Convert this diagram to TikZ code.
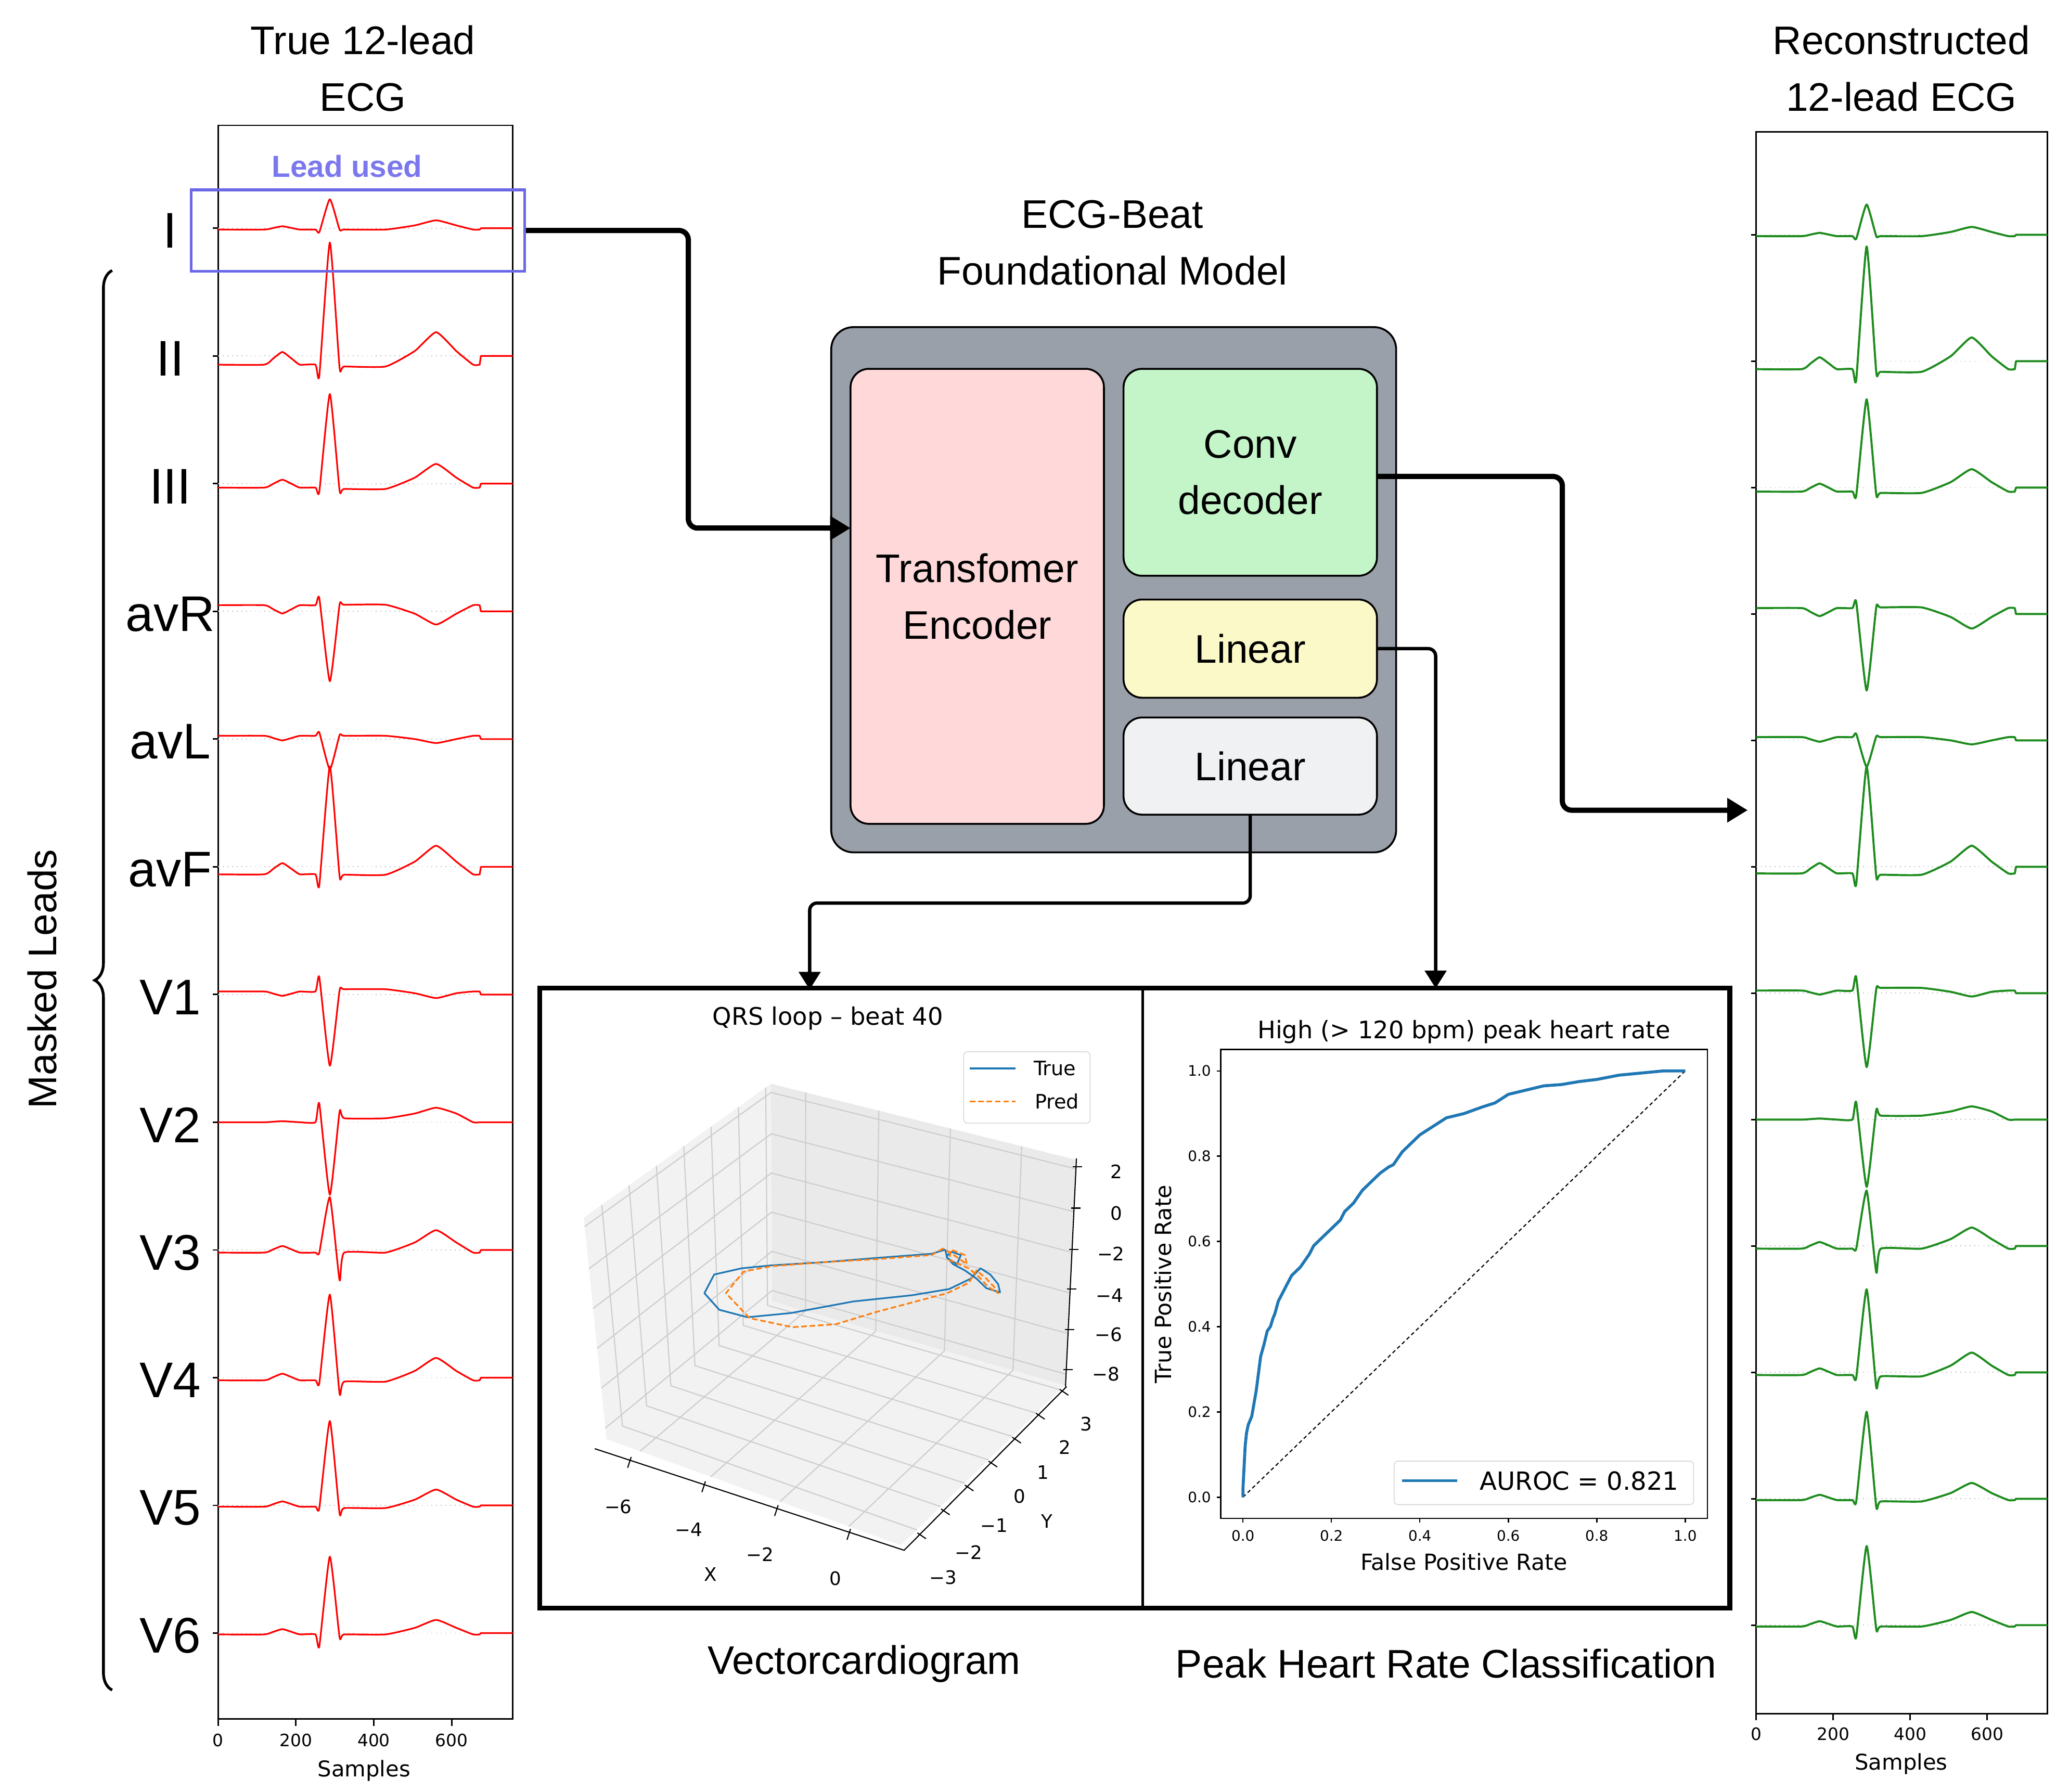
\documentclass[tikz,border=0pt]{standalone}
\usepackage{fontspec}
\setmainfont{Liberation Sans}
\newfontfamily\mplfont{DejaVu Sans}
\usetikzlibrary{arrows.meta, calc, positioning, decorations.pathreplacing}

\definecolor{leadblue}{RGB}{107,104,230}
\definecolor{leadtxt}{RGB}{123,120,238}
\definecolor{modelgray}{RGB}{154,160,169}
\definecolor{encpink}{RGB}{255,217,217}
\definecolor{decgreen}{RGB}{195,245,200}
\definecolor{linyellow}{RGB}{251,249,200}
\definecolor{lingray}{RGB}{240,241,243}
\definecolor{mplblue}{RGB}{31,119,180}
\definecolor{mplorange}{RGB}{255,127,14}
\definecolor{recgreen}{RGB}{30,140,30}
\definecolor{panegray}{RGB}{242,242,242}
\definecolor{backpane}{RGB}{234,234,234}
\definecolor{gridgray}{RGB}{205,205,205}

\newcommand{\fsz}[2]{\fontsize{#1}{#2}\selectfont}

% one beat: baseline y, offset, P, Q, R, S, J, T (px, up positive)
\newcommand{\ecgtrace}[8]{%
  \pgfmathsetmacro\ecgB{#1-(#2)}%
  \pgfmathsetmacro\ecgP{#1-(#3)}%
  \pgfmathsetmacro\ecgPa{#1-0.5*((#2)+(#3))}%
  \pgfmathsetmacro\ecgQ{#1-(#4)}%
  \pgfmathsetmacro\ecgR{#1-(#5)}%
  \pgfmathsetmacro\ecgS{#1-(#6)}%
  \pgfmathsetmacro\ecgJ{#1-(#7)}%
  \pgfmathsetmacro\ecgT{#1-(#8)}%
  \pgfmathsetmacro\ecgTa{#1-0.55*(#7)-0.45*(#8)}%
  \draw[ecgstyle] plot[smooth, tension=0.3] coordinates {(0,\ecgB) (118,\ecgB) (142,\ecgPa) (165,\ecgP) (188,\ecgPa) (210,\ecgB) (250,\ecgB) (260,\ecgQ) (287,\ecgR) (312,\ecgS) (324,\ecgJ) (430,\ecgJ) (505,\ecgTa) (560,\ecgT) (612,\ecgTa) (655,\ecgB) (672,\ecgB)} -- (675,#1) -- (757,#1);
}

\tikzset{
  headtext/.style={align=center, font=\fsz{21.5}{30.5}, inner sep=0pt},
  leadlabel/.style={font=\fsz{27}{30}, inner sep=0pt},
  mpltick/.style={font=\mplfont\fsz{9.2}{11}, inner sep=0pt},
  mpllabel/.style={font=\mplfont\fsz{11.7}{14}, inner sep=0pt},
  ecgframe/.style={line width=0.8pt},
  ecgred/.style={red, line width=0.9pt, line join=round},
  ecggreen/.style={recgreen, line width=1.1pt, line join=round},
  zeroline/.style={gray!50, dotted, line width=0.5pt},
  block/.style={draw, line width=1pt, rounded corners=0.35cm, inner sep=0pt, outer sep=0pt,
    minimum width=4.8cm, align=center, font=\fsz{21.5}{30.5}},
  flow/.style={line width=2.8pt, rounded corners=5, -{Triangle[length=11pt,width=12.5pt]}},
  flowthin/.style={line width=1.8pt, rounded corners=4, -{Triangle[length=9.5pt,width=11.5pt]}},
  panel/.style={draw, line width=1.3pt, inner sep=0pt, minimum height=11.7cm},
  pane/.style={fill=panegray},
  gridline/.style={gridgray, line width=0.6pt},
  axisline/.style={black, line width=0.6pt},
  vcgtick/.style={font=\mplfont\fsz{10}{12}, inner sep=0pt},
  roctick/.style={font=\mplfont\fsz{7.8}{9}, inner sep=0pt},
  roclabel/.style={font=\mplfont\fsz{12}{14}, inner sep=0pt},
}

\begin{document}
\begin{tikzpicture}[x=0.025cm, y=-0.025cm]
\useasboundingbox (0,0) rectangle (1568,1358);

% Titles
\node[headtext] (titletrue) at (275,52) {True 12-lead\\ECG};
\node[headtext] (titlerec) at (1441,52) {Reconstructed\\12-lead ECG};
\node[headtext] (titlemodel) at (843,184) {ECG-Beat\\Foundational Model};

% True 12-lead panel
\begin{scope}[shift={(165.3,0)}, xscale=0.295, ecgstyle/.style=ecgred]
  \draw[ecgframe] (0,95) rectangle (757,1303);
  \foreach \xt in {0,200,400,600} {
    \draw[ecgframe] (\xt,1303) -- (\xt,1308);
    \node[mpltick] at (\xt,1319) {\xt};
  }
  \node[mpllabel] at (375,1342) {Samples};
  \foreach \pB/\pP/\pQ/\pR/\pS/\pJ/\pT [count=\idx from 0] in {-1/1.5/-3/22/-1/-1/6, -6.6/3/-15/86/-8.7/-8/18, -3/3/-6/68/-5/-4/15, 4.7/-1.6/10/-53/5/5/-10, 2.5/-1/5/-23/3/2.5/-3, -5.7/2.8/-14/76/-7/-6/16, 2.3/-1/13/-54/3/4/-2.7, 0/0.8/14/-55/8/3/11, -2/3/-2/40/-23/-2/15, -2/3/-4/63/-12/-3/15, -1/3/-2/64/-6/-2/12, -1/3/-10/58/-3/-1/10} {
    \pgfmathsetmacro\ly{173+96.8*\idx}
    \draw[zeroline] (0,\ly) -- (757,\ly);
    \draw[ecgframe] (-13.6,\ly) -- (0,\ly);
    \ecgtrace{\ly}{\pB}{\pP}{\pQ}{\pR}{\pS}{\pJ}{\pT}
  }
\end{scope}

% Lead names
\foreach \lname [count=\idx from 0] in {I,II,III,avR,avL,avF,V1,V2,V3,V4,V5,V6}
  \node[leadlabel] (lead\lname) at (129,{175+96.8*\idx}) {\lname};

% Lead used
\node[draw=leadblue, line width=1.5pt, minimum width=6.32cm, minimum height=1.54cm, inner sep=0pt] (leadbox) at (271.2,174.7) {};
\node[text=leadtxt, font=\bfseries\fsz{16.4}{18}, inner sep=0pt] (leadtxt) at (263,126) {Lead used};

% Masked leads brace
\draw[line width=1.5pt, decorate, decoration={brace, amplitude=0.33cm}] (85,1281) -- (85,205);
\node[headtext, rotate=90] (masked) at (32,742) {Masked Leads};

% Reconstructed panel
\begin{scope}[shift={(1330.9,0)}, xscale=0.2917, ecgstyle/.style=ecggreen]
  \draw[ecgframe] (0,100) rectangle (757,1299);
  \foreach \xt in {0,200,400,600} {
    \draw[ecgframe] (\xt,1299) -- (\xt,1304);
    \node[mpltick] at (\xt,1314.5) {\xt};
  }
  \node[mpllabel] at (377,1337) {Samples};
  \foreach \pB/\pP/\pQ/\pR/\pS/\pJ/\pT [count=\idx from 0] in {-1/1.5/-3/23/-1/-1/6, -6/3/-14/87/-8/-8/18, -3/3/-6/67/-5/-4/14, 4.5/-1.6/9/-58/5/5/-11, 2.5/-1/5/-20/3/2.5/-3, -5/2.8/-13/76/-7/-6/16, 2/-1/12/-56/3/4/-2.5, 0/0.8/13/-51/7/3/10, -2/3/-2/42/-20/-2/14, -2/3/-4/63/-11/-3/15, -1/3/-2/66/-6/-2/12, -1/3/-9/60/-3/-1/10} {
    \pgfmathsetmacro\ly{178+95.8*\idx}
    \draw[zeroline] (0,\ly) -- (757,\ly);
    \draw[ecgframe] (-13.7,\ly) -- (0,\ly);
    \ecgtrace{\ly}{\pB}{\pP}{\pQ}{\pR}{\pS}{\pJ}{\pT}
  }
\end{scope}

% Foundational model
\node[draw, line width=1pt, fill=modelgray, rounded corners=0.42cm, minimum width=10.7cm, minimum height=9.95cm, inner sep=0pt] (model) at (844,447) {};
\node[block, fill=encpink, minimum height=8.62cm] (encoder) at (740.6,452) {Transfomer\\Encoder};
\node[block, fill=decgreen, minimum height=3.92cm] (decoder) at (947.5,358) {Conv\\decoder};
\node[block, fill=linyellow, minimum height=1.86cm, below=0.45cm of decoder] (linA) {Linear};
\node[block, fill=lingray, minimum height=1.84cm, below=0.375cm of linA] (linB) {Linear};

% Result panels
\node[panel, minimum width=11.4cm] (vcgpanel) at (638,984) {};
\node[panel, minimum width=11.1cm] (rocpanel) at (1088,984) {};
\draw[line width=2.5pt] (vcgpanel.north west) rectangle (rocpanel.south east);
\node[headtext] (vcgname) at (655,1261) {Vectorcardiogram};
\node[headtext] (rocname) at (1096,1261) {Peak Heart Rate Classification};

% Connectors
\coordinate (encin) at ($(encoder.north west)!0.35!(encoder.south west)$);
\coordinate (decout) at ($(decoder.north east)!0.52!(decoder.south east)$);
\coordinate (reconin) at (1324.5,614.1);
\coordinate (vcgin) at (613.6,750);
\draw[flow] (leadbox.east) -| ($(leadbox.east)!0.5!(encin)$) |- (encin);
\draw[flow] (decout) -| ($(decout)!0.5!(reconin)$) |- (reconin);
\draw[flowthin] (linA.east) -| (rocpanel.north);
\draw[flowthin] (linB.south) -- ++(0,67) -| (vcgin);

% Vectorcardiogram plot
\begin{scope}[shift={(406.2,741.3)}, xscale=0.2968, yscale=0.3143]
  \coordinate (pA) at (600,255);
  \coordinate (pB) at (1378,438);
  \coordinate (pC) at (1350,982);
  \coordinate (pD) at (603,780);
  \coordinate (pE) at (122,578);
  \coordinate (pF) at (180,1112);
  \coordinate (pG) at (932,1368);
  \fill[pane] (pE) -- (pA) -- (pD) -- (pF) -- cycle;
  \fill[pane, fill=backpane] (pA) -- (pB) -- (pC) -- (pD) -- cycle;
  \fill[pane] (pF) -- (pD) -- (pC) -- (pG) -- cycle;
  \foreach \fr in {0.05,0.23,0.41,0.59,0.77,0.96}
    \draw[gridline] ($(pF)!\fr!(pE)$) -- ($(pD)!\fr!(pA)$) -- ($(pC)!\fr!(pB)$);
  \foreach \fr in {0.114,0.354,0.589,0.823}
    \draw[gridline] ($(pF)!\fr!(pG)$) -- ($(pD)!\fr!(pC)$) -- ($(pA)!\fr!(pB)$);
  \foreach \fr in {0.096,0.242,0.388,0.534,0.68,0.826,0.972}
    \draw[gridline] ($(pG)!\fr!(pC)$) -- ($(pF)!\fr!(pD)$) -- ($(pE)!\fr!(pA)$);
  % axes
  \draw[axisline] (150,1135) -- (940,1380) -- (1355,985);
  \draw[axisline] (1352,985) -- (1380,435);
  \foreach \fr in {0.114,0.354,0.589,0.823} {
    \pgfmathsetmacro\tx{150+790*\fr}
    \pgfmathsetmacro\ty{1135+245*\fr}
    \draw[axisline] ({\tx+3},{\ty-8}) -- ({\tx-6},{\ty+18});
  }
  \foreach \fr in {0.096,0.242,0.388,0.534,0.68,0.826,0.972} {
    \pgfmathsetmacro\tx{940+415*\fr}
    \pgfmathsetmacro\ty{1380-395*\fr}
    \draw[axisline] ({\tx-6},{\ty-4}) -- ({\tx+16},{\ty+10});
  }
  \foreach \fr in {0.073,0.249,0.427,0.6,0.782,0.964} {
    \pgfmathsetmacro\tx{1352+28*\fr}
    \pgfmathsetmacro\ty{985-550*\fr}
    \draw[axisline] ({\tx-8},\ty) -- ({\tx+16},\ty);
  }
  \foreach \lx/\lyy/\txt in {210/1275/−6, 390/1330/−4, 572/1390/−2, 765/1448/0, 1040/1445/−3, 1105/1385/−2, 1170/1320/−1, 1235/1250/0, 1295/1192/1, 1350/1132/2, 1405/1075/3, 1482/467/2, 1482/568/0, 1468/665/−2, 1465/765/−4, 1462/860/−6, 1455/955/−8}
    \node[vcgtick] at (\lx,\lyy) {\txt};
  \node[vcgtick] (xname) at (445,1438) {X};
  \node[vcgtick] (yname) at (1305,1310) {Y};
  % loops
  \draw[mplblue, line width=0.9pt, line join=round] (1045,655) -- (1010,665) -- (870,675) -- (740,685) -- (600,693) -- (525,700) -- (455,715) -- (430,760) -- (468,800) -- (540,818) -- (650,808) -- (810,780) -- (960,765) -- (1055,750) -- (1110,725) -- (1135,700) -- (1160,715) -- (1180,738) -- (1185,758) -- (1150,748) -- (1125,725) -- (1095,705) -- (1065,690) -- (1048,672) -- (1060,660) -- (1085,668) -- (1075,690) -- (1050,675) -- (1045,655);
  \draw[mplorange, line width=0.9pt, line join=round, dash pattern=on 3pt off 1.5pt] (1040,652) -- (1010,668) -- (870,678) -- (740,685) -- (600,695) -- (530,708) -- (485,760) -- (545,820) -- (655,842) -- (765,835) -- (870,805) -- (1050,760) -- (1105,735) -- (1125,705) -- (1150,725) -- (1170,745) -- (1180,760) -- (1155,745) -- (1130,720) -- (1105,700) -- (1080,690) -- (1055,680) -- (1060,655) -- (1095,668) -- (1100,690) -- (1070,670) -- (1040,652);
  % legend
  \draw[gray!30, fill=white, rounded corners=2pt, line width=0.5pt] (1092,178) rectangle (1415,350);
  \draw[mplblue, line width=0.9pt] (1108,218) -- (1225,218);
  \draw[mplorange, line width=0.9pt, dash pattern=on 3pt off 1.5pt] (1108,298) -- (1225,298);
  \node[font=\mplfont\fsz{10.7}{12}, inner sep=0pt] (legtrue) at (1325,218) {True};
  \node[font=\mplfont\fsz{10.7}{12}, inner sep=0pt] (legpred) at (1330,298) {Pred};
  \node[font=\mplfont\fsz{13}{15}, inner sep=0pt] (vcgtitle) at (745,97) {QRS loop – beat 40};
\end{scope}

% ROC plot
\begin{scope}[shift={(863.6,741.3)}, xscale=0.2892, yscale=0.3143]
  \draw[line width=0.7pt] (213,172) rectangle (1488,1303);
  \foreach \tk in {0.0,0.2,0.4,0.6,0.8,1.0} {
    \draw[line width=0.7pt] (203,{1252-1028*\tk}) -- (213,{1252-1028*\tk});
    \node[roctick, anchor=east] at (188,{1252-1028*\tk}) {\tk};
    \draw[line width=0.7pt] ({271+1159*\tk},1303) -- ({271+1159*\tk},1313);
    \node[roctick] at ({271+1159*\tk},1345) {\tk};
  }
  \node[roclabel] (fprname) at (850,1408) {False Positive Rate};
  \node[roclabel, rotate=90] (tprname) at (62,738) {True Positive Rate};
  \node[font=\mplfont\fsz{13}{15}, inner sep=0pt] (roctitle) at (850,130) {High (> 120 bpm) peak heart rate};
  \begin{scope}[shift={(271,1252)}, xscale=1159, yscale=-1028]
    \draw[black, line width=0.6pt, dash pattern=on 2pt off 1.5pt] (0,0) -- (1,1);
    \draw[mplblue, line width=1.6pt, line join=round] (0,0) -- (0,0.02) -- (0.003,0.08) -- (0.005,0.12) -- (0.008,0.15) -- (0.012,0.17) -- (0.02,0.19) -- (0.025,0.22) -- (0.03,0.25) -- (0.035,0.29) -- (0.04,0.33) -- (0.048,0.36) -- (0.055,0.39) -- (0.062,0.4) -- (0.068,0.42) -- (0.072,0.43) -- (0.08,0.46) -- (0.09,0.48) -- (0.1,0.5) -- (0.11,0.52) -- (0.12,0.53) -- (0.13,0.54) -- (0.15,0.57) -- (0.16,0.59) -- (0.17,0.6) -- (0.19,0.62) -- (0.21,0.64) -- (0.22,0.65) -- (0.23,0.67) -- (0.25,0.69) -- (0.27,0.72) -- (0.29,0.74) -- (0.31,0.76) -- (0.33,0.775) -- (0.34,0.78) -- (0.36,0.81) -- (0.38,0.83) -- (0.4,0.85) -- (0.43,0.87) -- (0.46,0.89) -- (0.5,0.9) -- (0.54,0.915) -- (0.57,0.925) -- (0.6,0.945) -- (0.64,0.955) -- (0.68,0.965) -- (0.72,0.968) -- (0.76,0.975) -- (0.8,0.98) -- (0.85,0.99) -- (0.9,0.995) -- (0.95,1) -- (1,1);
  \end{scope}
  \draw[gray!30, fill=white, rounded corners=2pt, line width=0.5pt] (667,1165) rectangle (1452,1270);
  \draw[mplblue, line width=1.6pt] (688,1212) -- (832,1212);
  \node[font=\mplfont\fsz{13.5}{15}, inner sep=0pt] (auroc) at (1152,1213) {AUROC = 0.821};
\end{scope}

\end{tikzpicture}
\end{document}
